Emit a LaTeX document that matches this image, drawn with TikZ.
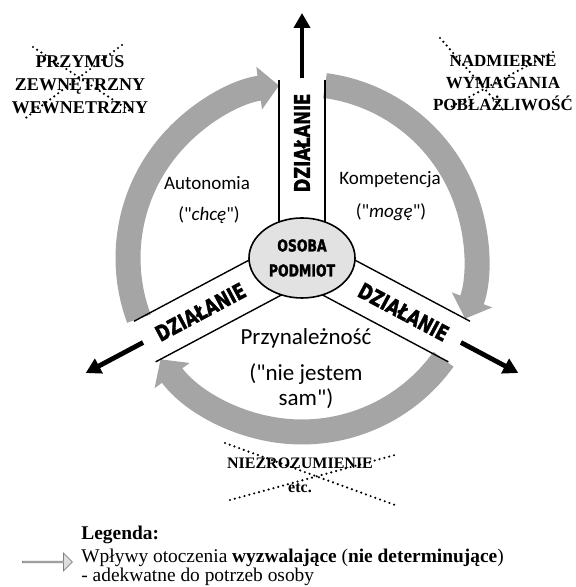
\documentclass[tikz,border=0pt]{standalone}
\usepackage{fontspec}
\usepackage{tikz}
\usetikzlibrary{arrows.meta}
\usetikzlibrary{shapes.geometric}
\usetikzlibrary{shapes.arrows}
\setmainfont{Liberation Serif}
\newfontfamily\calibri{Carlito}
\newfontfamily\impact{DejaVu Sans}[FakeStretch=0.76,FakeBold=1.6]
\definecolor{ringgray}{RGB}{165,165,165}
\definecolor{osobagray}{RGB}{226,226,226}
\definecolor{leggray}{RGB}{222,222,222}

\begin{document}
\begin{tikzpicture}[x=0.5pt,y=0.5pt]
   \tikzstyle{ring} = [draw=ringgray,line width=12.5pt,
     -{Triangle[length=10pt,width=21pt]}]
   \tikzstyle{act} = [draw,line width=2.4pt,-{Triangle[length=7.5pt,width=8pt]}]
   \tikzstyle{edge} = [draw,line width=0.7pt]
   \tikzstyle{dz} = [inner sep=0pt,font=\impact\bfseries\fontsize{10.8}{12}\selectfont]
   \tikzstyle{lab} = [inner sep=0pt,font=\calibri\fontsize{9.5}{11}\selectfont]
   \tikzstyle{cross} = [line width=1.2pt,dash pattern=on 0pt off 2.5pt,line cap=round]
   \tikzstyle{old} = [inner sep=0pt,align=center]
   \useasboundingbox (0,0) rectangle (575,587);
   \coordinate (c) at (302,329);
    %%
    \draw[ring] (c) ++(200.4:174) arc[start angle=200.4,end angle=97.6,radius=174];
    \draw[ring] (c) ++(82.4:174) arc[start angle=82.4,end angle=-20.4,radius=174];
    \draw[ring] (c) ++(-35.6:174) arc[start angle=-35.6,end angle=-144.4,radius=174];
    %%
    \foreach \a/\t in {90/0, 208/180, 332/0} {
      \begin{scope}[shift={(c)},rotate=\a]
        \draw[edge] (0,23) -- (178,23);
        \draw[edge] (0,-23) -- (178,-23);
        \node[dz,transform shape,rotate=\t] (dz\a) at (115,0) {DZIAŁANIE};
        \coordinate (s\a) at (180,0);
        \coordinate (e\a) at (245,0);
        \draw[act] (s\a) -- (e\a);
      \end{scope}
    }
    %%
    \node[ellipse,draw,line width=0.8pt,fill=osobagray,minimum width=53pt,
      minimum height=40pt,inner sep=0pt,align=center,
      font=\impact\bfseries\fontsize{8.2}{12.5}\selectfont] (osoba) at (c)
      {OSOBA\\PODMIOT};
    %%
    \node[lab] (autonomia) at (207,404) {Autonomia};
    \node[lab] (chce) at (209,372) {("\textit{chcę}")};
    \node[lab] (kompetencja) at (390,407) {Kompetencja};
    \node[lab] (moge) at (391,375) {("\textit{mogę}")};
    \node[lab,font=\calibri\fontsize{11.5}{12.5}\selectfont] (przynaleznosc)
      at (306,249) {Przynależność};
    \node[lab,align=center,font=\calibri\fontsize{11.5}{12.5}\selectfont] (niesam)
      at (306,201) {("nie jestem\\sam")};
    %%
    \node[old,font=\bfseries\fontsize{9}{11.5}\selectfont] (przymus) at (80,502)
      {PRZYMUS\\ZEWNĘTRZNY\\WEWNETRZNY};
    \draw[cross] (33,540) -- (133,474);
    \draw[cross] (122,542) -- (23,467);
    \node[old,font=\bfseries\fontsize{8.5}{10.8}\selectfont] (nadmierne) at (503,504)
      {NADMIERNE\\WYMAGANIA\\POBŁAŻLIWOŚĆ};
    \draw[cross] (440,549) -- (505,475);
    \draw[cross] (553,535) -- (445,477);
    \node[old,font=\bfseries\fontsize{8}{12}\selectfont] (niezrozumienie) at (300,112)
      {NIEZROZUMIENIE\\etc.};
    \draw[cross] (225,144) -- (395,82);
    \draw[cross] (230,87) -- (395,132);
    %%
    \node[single arrow,draw=gray,fill=leggray,line width=0.4pt,minimum width=9pt,
      single arrow head extend=2pt,minimum height=25pt,inner sep=0pt] (legarrow)
      at (47,25) {};
    \tikzstyle{every node}=[font=\fontsize{9.7}{11}\selectfont,inner sep=0pt,anchor=base west]
    \node (legenda) at (81,47) {\textbf{Legenda:}};
    \node (wplywy) at (81,25)
      {Wpływy otoczenia \textbf{wyzwalające} (\textbf{nie determinujące})};
    \node (adekwatne) at (81,5) {- adekwatne do potrzeb osoby};
\end{tikzpicture}
\end{document}
